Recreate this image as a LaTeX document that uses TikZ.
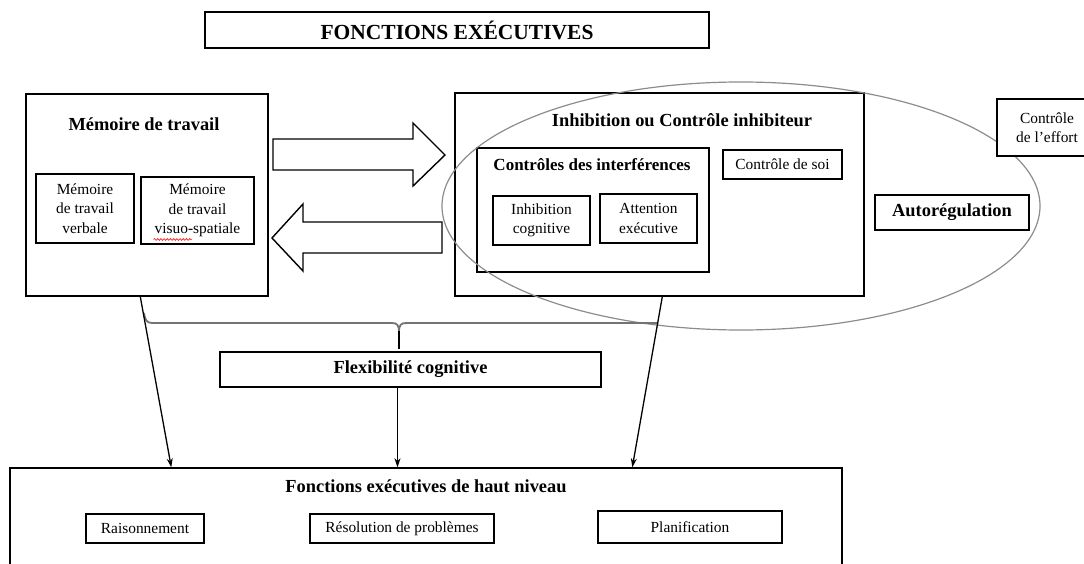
\documentclass[tikz,border=0pt]{standalone}
\usepackage{fontspec}
\setmainfont{Liberation Serif}
\usetikzlibrary{arrows.meta,calc,decorations.pathmorphing}
\begin{document}
\begin{tikzpicture}[x=1pt,y=-1pt,
  box/.style={draw, line width=1.4pt, inner sep=0pt},
  hb/.style={font=\fontsize{18.4}{22}\selectfont\bfseries, inner sep=0pt},
  rg/.style={font=\fontsize{15.4}{19.5}\selectfont, align=center},
  arr/.style={line width=1.3pt, -{Stealth[length=9pt,width=6pt]}},
  bracefx/.style={draw=black!55, line width=1.8pt},
  block/.style={draw, line width=1.4pt, fill=white, line join=miter},
  ell/.style={draw=black!45, line width=1.2pt}
]
\useasboundingbox (0,0) rectangle (1084,564);
\clip (0,0) rectangle (1084,564);

% title
\node[box, minimum width=504pt, minimum height=36pt, font=\fontsize{21.5}{24}\selectfont\bfseries] (title) at (457,30) {FONCTIONS EXÉCUTIVES};

% working memory
\node[box, minimum width=242pt, minimum height=202pt] (mem) at (147,195) {};
\node[hb] (memt) at (144,124) {Mémoire de travail};
\node[box, rg, minimum width=98pt, minimum height=69pt] (mtv) at (85,208.5) {Mémoire\\de travail\\verbale};
\node[box, rg, minimum width=113pt, minimum height=67pt] (mtvs) at (197.5,210.5) {Mémoire\\de travail\\visuo-spatiale};
\draw[red, line width=0.6pt, decorate, decoration={snake, amplitude=0.9pt, segment length=3.2pt}]
  ($(mtvs.center)+(-44,29)$) -- ($(mtvs.center)+(-6,29)$);

% inhibition
\node[box, minimum width=409pt, minimum height=203pt] (inh) at (659.5,194.5) {};
\node[hb] (inht) at (682,120) {Inhibition ou Contrôle inhibiteur};
\node[box, minimum width=232pt, minimum height=124pt] (ci) at (593,210) {};
\node[font=\fontsize{17}{20}\selectfont\bfseries, inner sep=0pt] (cit) at (592,165) {Contrôles des interférences};
\node[box, rg, minimum width=97pt, minimum height=49pt] (icog) at (541.5,220.5) {Inhibition\\cognitive};
\node[box, rg, minimum width=97pt, minimum height=49pt] (aex) at (648.5,218.5) {Attention\\exécutive};
\node[box, rg, minimum width=119pt, minimum height=29pt] (soi) at (782.5,164.5) {Contrôle de soi};

% self-regulation
\node[box, hb, minimum width=154pt, minimum height=35pt] (auto) at (952,212.5) {Autorégulation};
\draw[ell] (741,206) ellipse [x radius=299, y radius=124];
\node[box, rg, fill=white, minimum width=100pt, minimum height=57pt] (effort) at (1047,127.5) {Contrôle\\de l’effort};

% block arrows between memory and inhibition
\draw[block] (273,139) -- (413,139) -- (413,123) -- (445,155) -- (413,186) -- (413,170) -- (273,170) -- cycle;
\draw[block] (442,222) -- (303,222) -- (303,204) -- (272,238) -- (303,271) -- (303,253) -- (442,253) -- cycle;

% flexibility
\node[box, hb, minimum width=381pt, minimum height=35pt] (flex) at (410.5,369.5) {Flexibilité cognitive};

% high level executive functions
\node[box, minimum width=832pt, minimum height=160pt] (hn) at (426,548) {};
\node[hb] (hnt) at (426,486) {Fonctions exécutives de haut niveau};
\node[box, rg, minimum width=118pt, minimum height=29pt] (rais) at (145,528.5) {Raisonnement};
\node[box, rg, minimum width=184pt, minimum height=29pt] (reso) at (402,528.5) {Résolution de problèmes};
\node[box, rg, minimum width=184pt, minimum height=32pt] (plan) at (690,527) {Planification};

% brace
\draw[bracefx] (144,313) .. controls (145,320) and (147,323) .. (152,323) -- (392,323)
  .. controls (397,323) and (399,325) .. (399,332);
\draw[bracefx] (399,332) .. controls (399,325) and (401,323) .. (406,323) -- (658,323);
\draw[line width=1.4pt] (399,331) -- (399,349);

% arrows
\coordinate (m1) at ($(mem.south west)+(115,0)$);
\coordinate (h1) at ($(hn.north west)+(162,0)$);
\coordinate (f1) at ($(flex.south)+(-13,0)$);
\coordinate (i1) at ($(inh.south west)+(208,0)$);
\coordinate (h3) at ($(hn.north west)+(623,0)$);
\draw[arr] (m1) -- (h1);
\draw[arr] (f1) -- (f1 |- hn.north);
\draw[arr] (i1) -- (h3);
\end{tikzpicture}
\end{document}
